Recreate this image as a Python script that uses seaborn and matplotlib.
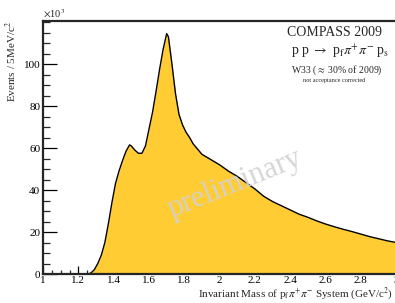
import matplotlib
matplotlib.use("Agg")
import matplotlib.pyplot as plt
import seaborn as sns
import pandas as pd
from matplotlib.ticker import MultipleLocator

# invariant mass (GeV/c^2) and events / 5 MeV/c^2 (x10^3)
mass = [1.00, 1.10, 1.20, 1.25, 1.27, 1.29, 1.31, 1.33, 1.35, 1.37, 1.39, 1.41,
        1.43, 1.45, 1.47, 1.49, 1.50, 1.52, 1.54, 1.56, 1.58, 1.60, 1.62, 1.64,
        1.66, 1.68, 1.70, 1.71, 1.73, 1.75, 1.77, 1.79, 1.81, 1.83, 1.85, 1.87,
        1.90, 1.95, 2.00, 2.05, 2.10, 2.15, 2.20, 2.25, 2.30, 2.35, 2.40, 2.45,
        2.50, 2.55, 2.60, 2.65, 2.70, 2.75, 2.80, 2.85, 2.90, 2.95, 3.00]
events = [0.0, 0.0, 0.0, 0.0, 0.4, 2.0, 5.0, 9.0, 15.0, 24.0, 34.0, 43.0,
          49.0, 54.0, 58.5, 61.5, 61.0, 59.0, 57.5, 57.5, 61.0, 69.0, 77.0, 87.0,
          97.5, 107.0, 114.5, 113.0, 100.0, 86.0, 76.0, 71.0, 67.5, 65.0, 62.0, 60.0,
          57.0, 54.5, 52.0, 49.0, 46.5, 43.5, 40.5, 37.0, 34.5, 32.5, 30.5, 28.5,
          27.0, 25.3, 23.8, 22.5, 21.3, 20.2, 19.0, 17.8, 16.8, 15.8, 15.0]
xticks = [1, 1.2, 1.4, 1.6, 1.8, 2, 2.2, 2.4, 2.6, 2.8, 3]
xtick_labels = ["1", "1.2", "1.4", "1.6", "1.8", "2", "2.2", "2.4", "2.6", "2.8", "3"]
yticks = [0, 20, 40, 60, 80, 100]

df = pd.DataFrame({"mass": mass, "events": events})

sns.set_style("ticks")
plt.rcParams['font.family'] = ['Liberation Serif', 'DejaVu Serif']
plt.rcParams['mathtext.fontset'] = 'stix'

fig = plt.figure(figsize=(3.95, 3.03), dpi=100)
ax = fig.add_axes([0.109, 0.0957, 0.894, 0.835])

ax.fill_between(df["mass"], df["events"], 0, color="#ffcc33", lw=0, zorder=1)
sns.lineplot(data=df, x="mass", y="events", ax=ax, color="black", lw=1.0, zorder=2)

ax.set_xlim(1, 3)
ax.set_ylim(0, 120.5)
ax.xaxis.set_minor_locator(MultipleLocator(0.05))
ax.yaxis.set_minor_locator(MultipleLocator(5))
ax.set_xticks(xticks)
ax.set_xticklabels(xtick_labels)
ax.set_yticks(yticks)
ax.tick_params(which="major", direction="in", length=6, width=0.9, labelsize=8, pad=1.5,
               colors="black")
ax.tick_params(which="minor", direction="in", length=3, width=0.9)
ax.tick_params(axis="y", which="major", length=10, pad=2)
ax.tick_params(axis="y", which="minor", length=5)
for s in ax.spines.values():
    s.set_linewidth(1.6)
ax.set_xlabel("")
ax.set_ylabel("")

fig.text(0.995, 0.003, r"Invariant Mass of p$_{\rm f}$$\pi^{+}\pi^{-}$ System (GeV/c$^{2}$)",
         ha="right", va="bottom", fontsize=8)
fig.text(0.03, 0.93, r"Events / 5MeV/c$^{2}$", rotation=90, ha="center", va="top", fontsize=8)
fig.text(0.109, 0.935, r"$\times$10$^{3}$", ha="left", va="bottom", fontsize=7.5)

ax.text(0.824, 0.953, "COMPASS 2009", transform=ax.transAxes, ha="center", va="center",
        fontsize=10)
ax.text(0.84, 0.881, r"p p $\rightarrow$ p$_{\rm f}$$\pi^{+}\pi^{-}$ p$_{\rm s}$",
        transform=ax.transAxes, ha="center", va="center", fontsize=10)
ax.text(0.832, 0.806, r"W33 ($\approx$ 30% of 2009)", transform=ax.transAxes,
        ha="center", va="center", fontsize=7)
ax.text(0.824, 0.763, "not acceptance corrected", transform=ax.transAxes,
        ha="center", va="center", fontsize=4.5)

ax.text(2.09, 43, "preliminary", rotation=22, ha="center", va="center",
        fontsize=22, color="#d2d2d2", alpha=0.9, zorder=3)

fig.savefig("out.png", dpi=100)
